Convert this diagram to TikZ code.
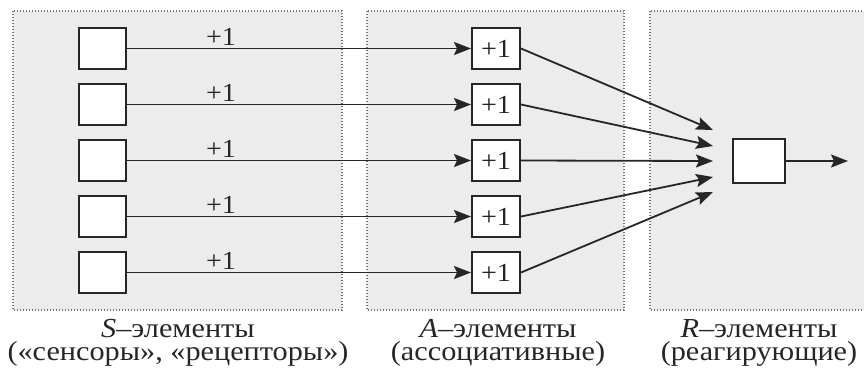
\documentclass[tikz,border=0pt]{standalone}
\usepackage{fontspec}
\setmainfont{Liberation Serif}
\newfontfamily\lblfont[FakeStretch=1.08]{Liberation Serif}
\newfontfamily\capfont[FakeStretch=1.1]{Liberation Serif}
\usetikzlibrary{arrows.meta}
\definecolor{panelfill}{RGB}{236,236,236}
\definecolor{panelrule}{RGB}{115,115,115}
\definecolor{ink}{RGB}{38,38,38}
\tikzset{
  panel/.style={fill=panelfill, draw=panelrule, line width=1.4pt,
    dash pattern=on 1.4pt off 1.6pt},
  unit/.style={draw=ink, fill=white, line width=2pt, inner sep=0pt,
    minimum width=47pt, minimum height=41pt, text=ink,
    font=\lblfont\fontsize{26}{26}\selectfont},
  link/.style={draw=ink, line width=1.8pt,
    -{Stealth[length=17pt,width=13pt,inset=3pt]}},
  weight/.style={anchor=base, inner sep=0pt, text=ink,
    font=\lblfont\fontsize{26}{26}\selectfont},
  % two-line caption; its base anchor sits on the lower line
  caption/.style={anchor=base, inner sep=0pt, text=ink, align=center,
    font=\capfont\fontsize{27.5}{23}\selectfont}
}
\begin{document}
\begin{tikzpicture}[x=1pt, y=-1pt]
  \useasboundingbox (0,0) rectangle (864,368);

  % the three layers
  \draw[panel] (13,11) rectangle (342,310);
  \draw[panel] (367,11) rectangle (624,310);
  \draw[panel] (650,11) rectangle (868,310);

  % S- and A-elements, one row each
  \foreach \i/\y in {1/48.5, 2/104.5, 3/160.5, 4/216.5, 5/272.5} {
    \node[unit] (s\i) at (102.5,\y) {};
    \node[unit, minimum width=48pt] (a\i) at (496,\y) {+1};
    \node[weight] (w\i) at (221,\y-3) {+1};
  }

  % R-element and its output
  \node[unit, minimum width=52pt, minimum height=44pt] (r) at (759,161) {};
  \coordinate (out) at (848,161);

  % converging inputs of the R-element
  \coordinate (t1) at (713,130);
  \coordinate (t2) at (713,146);
  \coordinate (t3) at (713,161);
  \coordinate (t4) at (713,177);
  \coordinate (t5) at (713,192);

  \foreach \i in {1,...,5} {
    \draw[link] (s\i.east) -- (a\i.west);
    \draw[link] (a\i.east) -- (t\i);
  }
  \draw[link] (r.east) -- (out);

  % layer captions
  \node[caption] (cs) at (178,360) {\textit{S}–элементы\\(«сенсоры», «рецепторы»)};
  \node[caption] (ca) at (498,360) {\textit{A}–элементы\\(ассоциативные)};
  \node[caption] (cr) at (759,360) {\textit{R}–элементы\\(реагирующие)};
\end{tikzpicture}
\end{document}
